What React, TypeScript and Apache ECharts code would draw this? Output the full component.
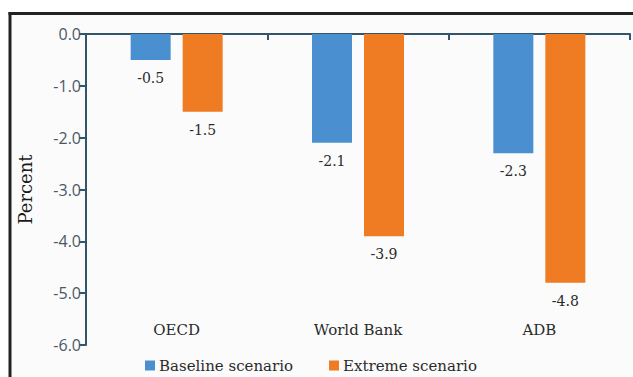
import React, { useEffect, useRef } from "react";
import * as echarts from "echarts";

const categories = ["OECD", "World Bank", "ADB"];
const baseline = [-0.5, -2.1, -2.3];
const extreme = [-1.5, -3.9, -4.8];
const seriesNames = ["Baseline scenario", "Extreme scenario"];
const yTicks = { min: -6, max: 0, interval: 1 };

const AXIS = "#34546a";
const BLUE = "#4a8fd0";
const ORANGE = "#ef7b23";
const SERIF = "'DejaVu Serif', 'Liberation Serif', serif";
const SANS = "'Open Sans', 'DejaVu Sans', sans-serif";

export default function App() {
  const ref = useRef<HTMLDivElement>(null);
  useEffect(() => {
    if (!ref.current) return;
    const chart = echarts.init(ref.current, undefined, { renderer: "svg" });
    const labelCfg = {
      show: true,
      position: "bottom" as const,
      distance: 11,
      fontFamily: SERIF,
      fontSize: 14,
      color: "#2a2a2a",
      formatter: (p: any) => Number(p.value).toFixed(1),
    };
    chart.setOption({
      animation: false,
      backgroundColor: "#ffffff",
      graphic: [
        {
          type: "rect",
          z: -10,
          silent: true,
          shape: { x: 10, y: 13.5, width: 623, height: 364 },
          style: { fill: "#fbfbfb" },
        },
        {
          type: "line",
          z: -9,
          silent: true,
          shape: { x1: 8.5, y1: 13.5, x2: 633, y2: 13.5 },
          style: { stroke: "#222222", lineWidth: 3 },
        },
        {
          type: "line",
          z: -9,
          silent: true,
          shape: { x1: 10, y1: 12, x2: 10, y2: 377 },
          style: { stroke: "#222222", lineWidth: 3 },
        },
      ],
      grid: { left: 86, right: 3, top: 34, bottom: 32, containLabel: false },
      legend: {
        bottom: -1,
        left: 140,
        itemWidth: 10,
        itemHeight: 10,
        itemGap: 36,
        icon: "rect",
        textStyle: { fontFamily: SERIF, fontSize: 15, color: "#2a2a2a", padding: [0, 0, 0, -1] },
        data: seriesNames,
      },
      xAxis: [
        {
          type: "category",
          data: categories,
          position: "top",
          axisLine: { show: true, onZero: true, lineStyle: { color: AXIS, width: 2 } },
          axisTick: { show: true, inside: true, length: 6, lineStyle: { color: AXIS, width: 2 } },
          axisLabel: { show: false },
          splitLine: { show: false },
        },
        {
          type: "category",
          data: categories,
          position: "bottom",
          axisLine: { show: false, onZero: false },
          axisTick: { show: false },
          axisLabel: {
            show: true,
            inside: true,
            margin: 8,
            fontFamily: SERIF,
            fontSize: 15,
            color: "#2a2a2a",
          },
          splitLine: { show: false },
        },
      ],
      yAxis: {
        type: "value",
        min: yTicks.min,
        max: yTicks.max,
        interval: yTicks.interval,
        name: "Percent",
        nameLocation: "middle",
        nameGap: 52,
        nameRotate: 90,
        nameTextStyle: { fontFamily: SERIF, fontSize: 18, color: "#1a1a1a" },
        axisLine: { show: true, lineStyle: { color: AXIS, width: 2 } },
        axisTick: { show: true, length: 7, lineStyle: { color: AXIS, width: 2 } },
        axisLabel: {
          margin: 5,
          fontFamily: SANS,
          fontSize: 16,
          color: "#4a5866",
          formatter: (v: number) => v.toFixed(1),
        },
        splitLine: { show: false },
      },
      series: [
        {
          name: seriesNames[0],
          type: "bar",
          xAxisIndex: 0,
          data: baseline,
          barWidth: 40,
          barGap: "30%",
          itemStyle: { color: BLUE },
          label: labelCfg,
        },
        {
          name: seriesNames[1],
          type: "bar",
          xAxisIndex: 0,
          data: extreme,
          barWidth: 40,
          barGap: "30%",
          itemStyle: { color: ORANGE },
          label: labelCfg,
        },
      ],
    });
    return () => chart.dispose();
  }, []);
  return (
    <div
      ref={ref}
      style={{ position: "absolute", left: 0, top: 0, width: 633, height: 377, overflow: "hidden" }}
    />
  );
}
